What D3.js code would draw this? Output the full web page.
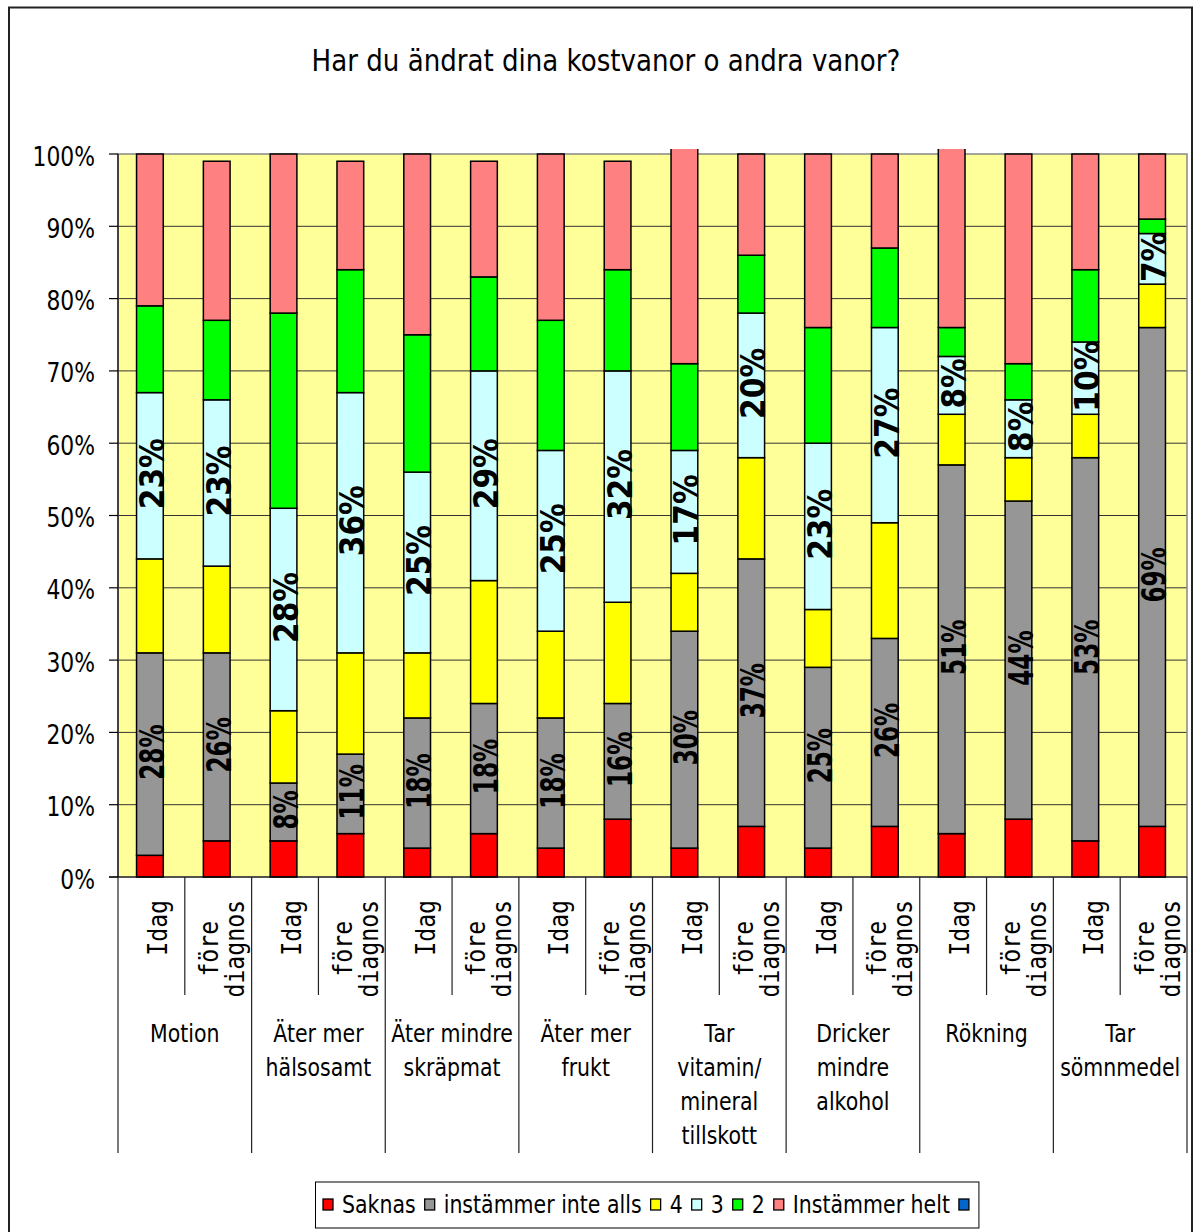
<!DOCTYPE html>
<html>
<head>
<meta charset="utf-8">
<script src="https://cdn.jsdelivr.net/npm/d3@7"></script>
<style>
  body { margin: 0; background: #fff; }
  svg { display: block; }
</style>
</head>
<body>
<svg id="chart" width="1200" height="1232"></svg>
<script>
// ---- data -------------------------------------------------------------
const groupLabels = [
  ["Motion"],
  ["Äter mer", "hälsosamt"],
  ["Äter mindre", "skräpmat"],
  ["Äter mer", "frukt"],
  ["Tar", "vitamin/", "mineral", "tillskott"],
  ["Dricker", "mindre", "alkohol"],
  ["Rökning"],
  ["Tar", "sömnmedel"]
];
const timepoints = [["Idag"], ["före", "diagnos"]];

const seriesNames  = ["Saknas", "instämmer inte alls", "4", "3", "2", "Instämmer helt", ""];
const seriesColors = ["#FF0000", "#969696", "#FFFF00", "#CCFFFF", "#00FF00", "#FF8080", "#0066CC"];

// percentages per bar: (Idag, före diagnos) for each question
const saknas   = [3, 5, 5, 6, 4, 6, 4, 8, 4, 7, 4, 7, 6, 8, 5, 7];
const inteAlls = [28, 26, 8, 11, 18, 18, 18, 16, 30, 37, 25, 26, 51, 44, 53, 69];
const fyra     = [13, 12, 10, 14, 9, 17, 12, 14, 8, 14, 8, 16, 7, 6, 6, 6];
const tre      = [23, 23, 28, 36, 25, 29, 25, 32, 17, 20, 23, 27, 8, 8, 10, 7];
const tva      = [12, 11, 27, 17, 19, 13, 18, 14, 12, 8, 16, 11, 4, 5, 10, 2];
const helt     = [21, 22, 22, 15, 25, 16, 23, 15, 30, 14, 24, 13, 25, 29, 16, 9];
const tom      = [0, 0, 0, 0, 0, 0, 0, 0, 0, 0, 0, 0, 0, 0, 0, 0];

const yTicks = [0, 10, 20, 30, 40, 50, 60, 70, 80, 90, 100];

// ---- layout -------------------------------------------------------------
const seriesKeys = ["saknas", "inteAlls", "fyra", "tre", "tva", "helt", "tom"];
const seriesData = { saknas, inteAlls, fyra, tre, tva, helt, tom };
const labelledSeries = { inteAlls: { size: 33, sx: 0.70 }, tre: { size: 33, sx: 0.90 } };

const plot = { left: 118, right: 1187, top: 154, bottom: 877 };
const FONT = "'DejaVu Sans', Verdana, sans-serif";
const MONO = "'DejaVu Sans Mono', monospace";

const svg = d3.select("#chart");

// outer chart frame
svg.append("rect")
  .attr("x", 9).attr("y", 7.5).attr("width", 1183).attr("height", 1300)
  .attr("fill", "#fff").attr("stroke", "#222").attr("stroke-width", 2);

const rows = d3.range(saknas.length).map(i => {
  const r = { i };
  seriesKeys.forEach(k => { r[k] = seriesData[k][i]; });
  return r;
});

const x = d3.scaleBand().domain(rows.map(r => r.i)).range([plot.left, plot.right]).padding(0);
const y = d3.scaleLinear().domain([0, 100]).range([plot.bottom, plot.top]);
const barW = x.bandwidth() * 0.4;
const barX = i => x(i) + (x.bandwidth() - barW) / 2 - 1.5;

// plot background
svg.append("rect")
  .attr("x", plot.left).attr("y", plot.top)
  .attr("width", plot.right - plot.left).attr("height", plot.bottom - plot.top)
  .attr("fill", "#FFFF99");

// horizontal gridlines
svg.append("g").selectAll("line")
  .data(yTicks.filter(t => t > 0 && t < 100))
  .join("line")
  .attr("x1", plot.left).attr("x2", plot.right)
  .attr("y1", d => y(d)).attr("y2", d => y(d))
  .attr("stroke", "#333").attr("stroke-width", 1);

// plot border
svg.append("rect")
  .attr("x", plot.left).attr("y", plot.top)
  .attr("width", plot.right - plot.left).attr("height", plot.bottom - plot.top)
  .attr("fill", "none").attr("stroke", "#888").attr("stroke-width", 1.5);

// clip for stacks that exceed 100 %
svg.append("defs").append("clipPath").attr("id", "plotClip")
  .append("rect")
  .attr("x", plot.left).attr("y", plot.top - 5)
  .attr("width", plot.right - plot.left).attr("height", plot.bottom - plot.top + 10);

const stack = d3.stack().keys(seriesKeys);
const stacked = stack(rows);

const barsG = svg.append("g").attr("clip-path", "url(#plotClip)");
stacked.forEach((layer, si) => {
  barsG.append("g").selectAll("rect")
    .data(layer.filter(d => d[1] - d[0] > 0))
    .join("rect")
    .attr("x", d => barX(d.data.i))
    .attr("y", d => y(d[1]))
    .attr("width", barW)
    .attr("height", d => y(d[0]) - y(d[1]))
    .attr("fill", seriesColors[si])
    .attr("stroke", "#000").attr("stroke-width", 1.5);
});

// value labels on two of the series
stacked.forEach(layer => {
  const cfg = labelledSeries[layer.key];
  if (!cfg) return;
  svg.append("g").selectAll("text")
    .data(layer.filter(d => d[1] - d[0] > 0))
    .join("text")
    .attr("transform", d => {
      const cx = barX(d.data.i) + barW / 2 + 2.5;
      const cy = (y(d[0]) + y(d[1])) / 2 - 2;
      return `translate(${cx},${cy}) rotate(-90) scale(${cfg.sx},1)`;
    })
    .attr("text-anchor", "middle")
    .attr("dy", "0.35em")
    .attr("font-family", FONT).attr("font-weight", "bold")
    .attr("font-size", cfg.size).attr("fill", "#000")
    .text(d => (d[1] - d[0]) + "%");
});

// y axis
const yAxisG = svg.append("g");
yAxisG.append("line")
  .attr("x1", plot.left).attr("x2", plot.left)
  .attr("y1", plot.top).attr("y2", plot.bottom)
  .attr("stroke", "#000").attr("stroke-width", 1.2);
yAxisG.selectAll("line.tick").data(yTicks).join("line").attr("class", "tick")
  .attr("x1", plot.left - 9).attr("x2", plot.left)
  .attr("y1", d => y(d)).attr("y2", d => y(d))
  .attr("stroke", "#000").attr("stroke-width", 1.2);
yAxisG.selectAll("text").data(yTicks).join("text")
  .attr("transform", d => `translate(95,${y(d) + 11.5}) scale(0.81,1)`)
  .attr("text-anchor", "end")
  .attr("font-family", FONT).attr("font-size", 27).attr("fill", "#000")
  .text(d => d + "%");

// x axis line and dividers
const xAxisG = svg.append("g");
xAxisG.append("line")
  .attr("x1", plot.left - 9).attr("x2", plot.right)
  .attr("y1", plot.bottom).attr("y2", plot.bottom)
  .attr("stroke", "#000").attr("stroke-width", 1.2);

const dividers = rows.map(r => ({ xPos: x(r.i), long: r.i % 2 === 0 }))
  .concat([{ xPos: plot.right, long: true }]);
xAxisG.selectAll("line.div").data(dividers).join("line").attr("class", "div")
  .attr("x1", d => d.xPos).attr("x2", d => d.xPos)
  .attr("y1", plot.bottom).attr("y2", d => d.long ? 1153 : 995)
  .attr("stroke", "#222").attr("stroke-width", 1.2);

// inner category labels (rotated)
const catSx = 0.89;
rows.forEach(r => {
  const lines = timepoints[r.i % 2];
  const cx = x(r.i) + x.bandwidth() / 2;
  const g = xAxisG.append("g");
  const texts = lines.map(line => g.append("text")
    .attr("text-anchor", "middle")
    .attr("font-family", MONO).attr("font-size", 26).attr("fill", "#000")
    .text(line));
  const maxLen = d3.max(texts, t => t.node().getComputedTextLength() * catSx);
  const yc = 900 + maxLen / 2;
  const n = lines.length;
  texts.forEach((t, k) => {
    const off = 16 - 16 * (n - 1) + 26 * k;
    t.attr("transform", `translate(${cx + off},${yc}) rotate(-90) scale(${catSx},1)`);
  });
});

// group labels
groupLabels.forEach((lines, gi) => {
  const gx = x(gi * 2) + x.bandwidth();
  lines.forEach((line, k) => {
    xAxisG.append("text")
      .attr("transform", `translate(${gx},${1042 + 34 * k}) scale(0.82,1)`)
      .attr("text-anchor", "middle")
      .attr("font-family", FONT).attr("font-size", 25).attr("fill", "#000")
      .text(line);
  });
});

// title
svg.append("text")
  .attr("transform", "translate(606,71) scale(0.87,1)")
  .attr("text-anchor", "middle")
  .attr("font-family", FONT).attr("font-size", 30).attr("fill", "#000")
  .text("Har du ändrat dina kostvanor o andra vanor?");

// legend
const legendG = svg.append("g");
const legBox = legendG.append("rect")
  .attr("y", 1182).attr("height", 46)
  .attr("fill", "#fff").attr("stroke", "#000").attr("stroke-width", 1);
let lx = 323;
const legSx = 0.82;
seriesNames.forEach((name, si) => {
  legendG.append("rect")
    .attr("x", lx).attr("y", 1199).attr("width", 10).attr("height", 11)
    .attr("fill", seriesColors[si]).attr("stroke", "#000").attr("stroke-width", 1.3);
  lx += 10;
  if (name) {
    lx += 9;
    const t = legendG.append("text")
      .attr("transform", `translate(${lx},1213) scale(${legSx},1)`)
      .attr("font-family", FONT).attr("font-size", 25).attr("fill", "#000")
      .text(name);
    lx += t.node().getComputedTextLength() * legSx + 9;
  }
});
legBox.attr("x", 315.5).attr("width", lx + 10 - 315.5);
</script>
</body>
</html>
